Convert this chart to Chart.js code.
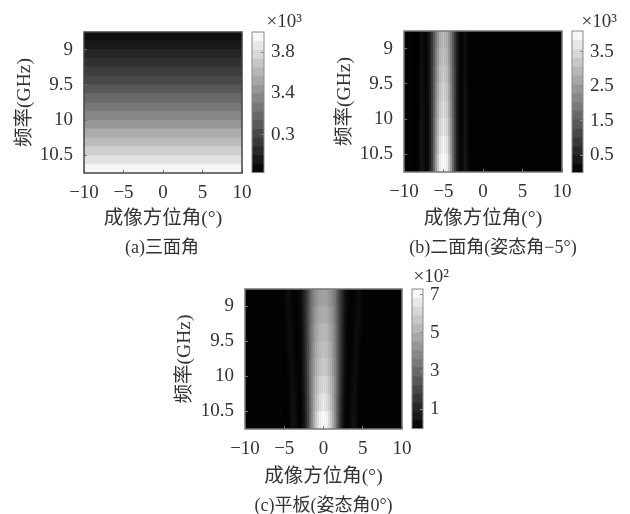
<!DOCTYPE html>
<html lang="zh">
<head>
<meta charset="UTF-8">
<title>频率-方位角成像</title>
<script src="https://cdn.jsdelivr.net/npm/chart.js"></script>
<style>
  html, body { margin: 0; background: #fff; width: 630px; height: 514px; overflow: hidden; }
  canvas { position: absolute; filter: blur(0.6px); }
</style>
</head>
<body>
<script>
// axis ticks
const azimuthTicks = [-10, -5, 0, 5, 10];
const freqTicks = [9, 9.5, 10, 10.5];

// (a) trihedral: horizontal bands, one value per band
const bandFreqs = [8.8125, 8.9375, 9.0625, 9.1875, 9.3125, 9.4375, 9.5625, 9.6875, 9.8125, 9.9375, 10.0625, 10.1875, 10.3125, 10.4375, 10.5625, 10.6875];
const bandValues = [0.9, 1.5, 2.3, 3.0, 3.8, 4.5, 5.5, 6.6, 7.5, 8.5, 9.5, 10.7, 11.8, 12.9, 14.1, 15.4];

// (b) and (c): rows are frequency, columns are degrees away from the peak
const rowFreqs = [8.875, 9.125, 9.375, 9.625, 9.875, 10.125, 10.375, 10.625];
const offsetsB = [0, 0.25, 0.5, 0.75, 1, 1.25, 1.5, 1.75, 2, 2.25, 2.5, 2.75, 3, 3.25, 3.5];
const rowsB = [
  [3.00, 2.95, 2.80, 2.40, 1.95, 1.40, 0.90, 0.50, 0.22, 0.08, 0.13, 0.22, 0.13, 0.05, 0.03],
  [3.10, 3.05, 2.90, 2.50, 2.00, 1.45, 0.92, 0.50, 0.22, 0.08, 0.14, 0.24, 0.14, 0.05, 0.03],
  [3.25, 3.20, 3.00, 2.60, 2.08, 1.50, 0.95, 0.50, 0.21, 0.08, 0.15, 0.26, 0.15, 0.06, 0.03],
  [3.40, 3.32, 3.12, 2.70, 2.15, 1.52, 0.96, 0.50, 0.21, 0.08, 0.16, 0.28, 0.18, 0.06, 0.03],
  [3.55, 3.48, 3.25, 2.80, 2.25, 1.58, 0.98, 0.50, 0.20, 0.08, 0.17, 0.30, 0.20, 0.07, 0.03],
  [3.70, 3.62, 3.40, 2.92, 2.32, 1.62, 0.98, 0.50, 0.20, 0.08, 0.18, 0.32, 0.22, 0.07, 0.03],
  [3.90, 3.82, 3.60, 3.05, 2.40, 1.66, 1.00, 0.50, 0.20, 0.08, 0.19, 0.33, 0.24, 0.08, 0.03],
  [4.09, 4.00, 3.80, 3.20, 2.50, 1.70, 1.00, 0.50, 0.20, 0.08, 0.20, 0.35, 0.25, 0.08, 0.03]
];
const offsetsC = [0, 0.25, 0.5, 0.75, 1, 1.25, 1.5, 1.75, 2, 2.25, 2.5, 2.75, 3, 3.25, 3.5, 3.75, 4, 4.25, 4.5, 4.75, 5];
const rowsC = [
  [4.7, 4.7, 4.6, 4.4, 4.1, 3.8, 3.4, 2.8, 2.1, 1.6, 1.0, 0.6, 0.3, 0.15, 0.1, 0.1, 0.15, 0.25, 0.4, 0.3, 0.15],
  [5.0, 5.0, 4.9, 4.7, 4.4, 4.0, 3.5, 2.9, 2.2, 1.6, 1.0, 0.55, 0.25, 0.1, 0.1, 0.12, 0.2, 0.3, 0.4, 0.25, 0.1],
  [5.3, 5.3, 5.2, 4.9, 4.6, 4.2, 3.6, 3.0, 2.2, 1.6, 0.95, 0.5, 0.2, 0.1, 0.1, 0.15, 0.25, 0.4, 0.35, 0.2, 0.1],
  [5.6, 5.5, 5.4, 5.1, 4.8, 4.3, 3.7, 3.0, 2.2, 1.55, 0.9, 0.45, 0.2, 0.1, 0.1, 0.2, 0.3, 0.4, 0.3, 0.15, 0.1],
  [5.9, 5.8, 5.6, 5.3, 5.0, 4.4, 3.8, 3.1, 2.2, 1.5, 0.85, 0.4, 0.15, 0.1, 0.15, 0.25, 0.4, 0.35, 0.2, 0.1, 0.05],
  [6.3, 6.2, 6.0, 5.6, 5.2, 4.6, 3.9, 3.1, 2.2, 1.4, 0.8, 0.35, 0.12, 0.1, 0.2, 0.3, 0.45, 0.3, 0.15, 0.1, 0.05],
  [6.7, 6.6, 6.3, 5.9, 5.4, 4.7, 3.9, 3.0, 2.1, 1.3, 0.7, 0.3, 0.1, 0.12, 0.25, 0.4, 0.45, 0.3, 0.12, 0.05, 0.05],
  [7.29, 7.15, 6.9, 6.4, 5.7, 4.9, 4.0, 3.0, 2.0, 1.2, 0.6, 0.25, 0.1, 0.15, 0.3, 0.45, 0.5, 0.3, 0.1, 0.05, 0.05]
];

// colorbars
const levelsA = [0.5, 1.5, 2.5, 3.5, 4.5, 5.5, 6.5, 7.5, 8.5, 9.5, 10.5, 11.5, 12.5, 13.5, 14.5, 15.5];
const levelsB = [0.128, 0.384, 0.64, 0.896, 1.152, 1.408, 1.664, 1.92, 2.176, 2.432, 2.688, 2.944, 3.2, 3.456, 3.712, 3.968];
const levelsC = [0.228, 0.684, 1.14, 1.596, 2.052, 2.508, 2.964, 3.42, 3.876, 4.332, 4.788, 5.244, 5.7, 6.156, 6.612, 7.068];
const barTicksA = [4.3, 9.07, 13.7];
const barLabelsA = ['0.3', '3.4', '3.8'];
const barTicksB = [0.5, 1.5, 2.5, 3.5];
const barLabelsB = ['0.5', '1.5', '2.5', '3.5'];
const barTicksC = [1, 3, 5, 7];
const barLabelsC = ['1', '3', '5', '7'];

const FONT = '"Liberation Serif", "Noto Sans CJK SC", serif';
const TEXT = '#333';

function gray(f) {
  const g = Math.round(Math.min(1, f) * 255);
  return `rgb(${g},${g},${g})`;
}

function place(left, top, width, height) {
  const c = document.createElement('canvas');
  c.width = width;
  c.height = height;
  c.style.left = left + 'px';
  c.style.top = top + 'px';
  document.body.appendChild(c);
  return c;
}

// black floor under the cells, and the box round the plot
const boxPlugin = {
  id: 'box',
  beforeDatasetsDraw(chart, args, opts) {
    const a = chart.chartArea;
    chart.ctx.fillStyle = opts.floor;
    chart.ctx.fillRect(a.left, a.top, a.width, a.height);
  },
  afterDraw(chart, args, opts) {
    const a = chart.chartArea;
    chart.ctx.strokeStyle = opts.color;
    chart.ctx.lineWidth = opts.width;
    chart.ctx.strokeRect(a.left, a.top, a.width, a.height);
  }
};

function bandCells(freqs, values) {
  return freqs.map((f, i) => ({ y: f, x: [-10, 10], v: values[i] }));
}

function peakCells(freqs, rows, offsets, center) {
  const cells = [];
  rows.forEach((row, r) => {
    row.forEach((v, i) => {
      const d = offsets[i];
      cells.push({ y: freqs[r], x: [center + d - 0.125, center + d + 0.125], v });
      if (d > 0) cells.push({ y: freqs[r], x: [center - d - 0.125, center - d + 0.125], v });
    });
  });
  return cells;
}

function heatChart(p) {
  new Chart(place(p.left, p.top, p.width, p.height), {
    type: 'bar',
    data: {
      datasets: [{
        data: p.cells,
        backgroundColor: ctx => gray(ctx.raw.v / p.vmax),
        borderWidth: 0,
        barPercentage: 1,
        categoryPercentage: 1
      }]
    },
    plugins: [boxPlugin],
    options: {
      indexAxis: 'y',
      responsive: false,
      animation: false,
      layout: { autoPadding: false, padding: { top: p.padTop, right: 0, left: 0, bottom: 0 } },
      plugins: {
        legend: { display: false },
        tooltip: { enabled: false },
        box: { floor: '#030303', color: p.frame, width: 1.5 },
        title: {
          display: true, position: 'bottom', text: p.caption, color: TEXT, padding: 0,
          font: { family: FONT, size: 18, weight: 'normal', lineHeight: '20px' }
        }
      },
      scales: {
        x: {
          type: 'linear', min: -10, max: 10,
          afterBuildTicks: s => { s.ticks = azimuthTicks.map(value => ({ value })); },
          afterFit: s => { s.height = p.xHeight; },
          grid: { drawOnChartArea: false, tickLength: -3, z: 1, color: '#777' },
          border: { display: false },
          ticks: {
            color: TEXT, padding: 12, maxRotation: 0, autoSkip: false,
            font: { family: FONT, size: 19 },
            callback: v => String(v).replace('-', '\u2212')
          },
          title: {
            display: true, text: '成像方位角(°)', color: TEXT,
            font: { family: FONT, size: 19.5, lineHeight: '18px' },
            padding: { top: 0, bottom: 10 }
          }
        },
        y: {
          type: 'linear', reverse: true, min: 8.75, max: 10.75, offset: false,
          afterBuildTicks: s => { s.ticks = freqTicks.map(value => ({ value })); },
          afterFit: s => { s.width = p.yWidth; },
          grid: { drawOnChartArea: false, offset: false, tickLength: -3, z: 1, color: '#777' },
          border: { display: false },
          ticks: {
            color: TEXT, padding: 14, autoSkip: false,
            font: { family: FONT, size: 19 },
            callback: v => String(v)
          },
          title: {
            display: true, text: '频率(GHz)', color: TEXT,
            font: { family: FONT, size: 19.5, lineHeight: '18px' },
            padding: { top: 16, bottom: 0 }
          }
        },
        // empty axis that keeps the plot left of the caption's centre
        spacer: {
          type: 'linear', position: 'right', display: true,
          afterFit: s => { s.width = p.spacer; },
          grid: { display: false },
          border: { display: false },
          ticks: { display: false }
        }
      }
    }
  });
}

function colorBar(p) {
  new Chart(place(p.left, p.top, p.width, p.height), {
    type: 'bar',
    data: {
      datasets: [{
        data: p.levels.map(l => ({ y: l, x: [0, 1] })),
        backgroundColor: ctx => gray(ctx.raw.y / p.max),
        borderWidth: 0,
        barPercentage: 1,
        categoryPercentage: 1
      }]
    },
    plugins: [boxPlugin],
    options: {
      indexAxis: 'y',
      responsive: false,
      animation: false,
      layout: { autoPadding: false, padding: { top: 0, left: p.padLeft, right: 0, bottom: 0 } },
      plugins: {
        legend: { display: false },
        tooltip: { enabled: false },
        box: { floor: '#000', color: '#8a8a8a', width: 1 },
        title: {
          display: true, position: 'top', align: 'end', text: p.power, color: TEXT,
          padding: { top: p.titleTop, bottom: p.titleBottom },
          font: { family: FONT, size: 19, weight: 'normal', lineHeight: '16px' }
        }
      },
      scales: {
        x: { type: 'linear', min: 0, max: 1, display: false },
        y: {
          type: 'linear', position: 'right', min: 0, max: p.max, offset: false,
          afterBuildTicks: s => { s.ticks = p.ticks.map(value => ({ value })); },
          afterFit: s => { s.width = p.yWidth; },
          grid: { drawOnChartArea: false, offset: false, tickLength: -3, z: 1, color: '#888' },
          border: { display: false },
          ticks: {
            color: TEXT, padding: 10, autoSkip: false,
            font: { family: FONT, size: 19 },
            callback: (v, i) => p.labels[i]
          }
        }
      }
    }
  });
}

// (a)
heatChart({
  left: 0, top: 0, width: 324, height: 258, padTop: 32, spacer: 82, yWidth: 84, xHeight: 65,
  cells: bandCells(bandFreqs, bandValues), vmax: 16, frame: '#444', caption: '(a)三面角'
});
colorBar({
  left: 245, top: 0, width: 57, height: 194, padLeft: 7, yWidth: 38, titleTop: 14, titleBottom: 2,
  levels: levelsA, max: 16, ticks: barTicksA, labels: barLabelsA, power: '×10³'
});

// (b)
heatChart({
  left: 320, top: 0, width: 346, height: 258, padTop: 31, spacer: 104, yWidth: 84, xHeight: 66,
  cells: peakCells(rowFreqs, rowsB, offsetsB, -5), vmax: 4.096, frame: '#777', caption: '(b)二面角(姿态角−5°)'
});
colorBar({
  left: 565, top: 0, width: 52, height: 194, padLeft: 7, yWidth: 34, titleTop: 14, titleBottom: 1,
  levels: levelsB, max: 4.096, ticks: barTicksB, labels: barLabelsB, power: '×10³'
});

// (c)
heatChart({
  left: 160, top: 258, width: 327, height: 258, padTop: 31, spacer: 85, yWidth: 85, xHeight: 67,
  cells: peakCells(rowFreqs, rowsC, offsetsC, 0), vmax: 7.296, frame: '#777', caption: '(c)平板(姿态角0°)'
});
colorBar({
  left: 405, top: 258, width: 44, height: 192, padLeft: 7, yWidth: 26, titleTop: 11, titleBottom: 4,
  levels: levelsC, max: 7.296, ticks: barTicksC, labels: barLabelsC, power: '×10²'
});
</script>
</body>
</html>
